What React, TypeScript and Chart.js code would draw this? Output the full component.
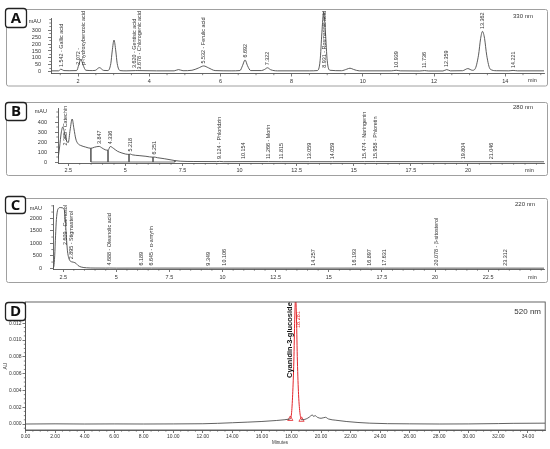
import React, { useEffect, useRef } from "react";
import { Chart, registerables } from "chart.js";
Chart.register(...registerables);

const FONT = '"Liberation Sans", Arial, Helvetica, sans-serif';
const INK = "#333333";
const AXIS = "#555555";
const TRACE = "#4a4a4a";
const RED = "#e3262b";

// ---------- Panel A : 330 nm ----------
const aTime = [1.25, 1.45, 1.52, 1.6, 1.75, 1.96, 2.02, 2.08, 2.14, 2.22, 2.4, 2.48, 2.6, 2.72, 2.84, 2.92, 2.96, 3.01, 3.06, 3.1, 3.18, 3.35, 3.62, 3.68, 4.2, 4.7, 4.82, 4.95, 5.2, 5.38, 5.532, 5.66, 5.85, 6.3, 6.55, 6.62, 6.692, 6.76, 6.85, 7.15, 7.24, 7.322, 7.41, 7.6, 8.5, 8.72, 8.8, 8.85, 8.9, 8.95, 9.0, 9.08, 9.4, 9.55, 9.64, 9.74, 9.9, 10.8, 10.939, 11.05, 11.6, 11.736, 11.85, 12.25, 12.359, 12.46, 12.8, 12.95, 13.08, 13.15, 13.25, 13.31, 13.362, 13.42, 13.48, 13.58, 13.75, 14.1, 14.221, 14.35, 15.09];
const aSignal = [8, 8, 20, 10, 9, 10, 50, 92, 50, 12, 10, 11, 31, 11, 10, 60, 150, 228, 150, 60, 10, 8, 10, 10, 8, 8, 17, 9, 12, 28, 43, 30, 10, 8, 10, 45, 86, 45, 10, 10, 18, 30, 16, 8, 8, 10, 80, 280, 430, 280, 80, 12, 9, 20, 27, 18, 8, 8, 12, 8, 7, 10, 7, 7, 17, 8, 9, 24, 12, 20, 120, 240, 290, 240, 120, 20, 9, 8, 11, 8, 8];
const aLabelTimes = [1.542, 2.072, 3.62, 3.678, 5.532, 6.692, 7.322, 8.931, 10.939, 11.736, 12.359, 13.362, 14.221];
const aLabelTexts = ["1.542 - Gallic acid", "2.072 -\np-hydroxybenzoic acid", "3.620 - Gentisic acid", "3.678 - Chlorogenic acid", "5.532 - Ferulic acid", "6.692", "7.322", "8.931 - Rosmarinic acid", "10.939", "11.736", "12.359", "13.362", "14.221"];
const aXTicks = [2, 4, 6, 8, 10, 12, 14];
const aYTicks = [0, 50, 100, 150, 200, 250, 300];

// ---------- Panel B : 280 nm ----------
const bTime = [2.05, 2.12, 2.19, 2.26, 2.34, 2.43, 2.5, 2.58, 2.67, 2.75, 2.83, 2.92, 3.05, 3.25, 3.49, 3.65, 3.85, 3.98, 4.12, 4.24, 4.34, 4.47, 4.65, 4.85, 5.0, 5.16, 5.22, 5.3, 5.6, 5.9, 6.21, 6.25, 6.4, 6.7, 7.0, 7.17, 7.4, 8.0, 9.0, 9.12, 9.3, 10.15, 11.27, 11.82, 13.06, 14.06, 15.47, 15.96, 19.8, 21.05, 23.33];
const bSignal = [30, 150, 290, 350, 290, 210, 195, 320, 430, 330, 230, 185, 165, 150, 137, 148, 156, 140, 122, 118, 155, 138, 108, 90, 80, 76, 79, 72, 64, 57, 48, 50, 43, 33, 21, 14, 8, 5, 4, 6, 3, 4, 4, 3, 3, 3, 4, 4, 3, 3, 2];
const bDropTimes = [3.49, 4.24, 5.16, 6.21, 7.17];
const bLabelTimes = [2.365, 3.847, 4.336, 5.218, 6.251, 9.124, 10.154, 11.266, 11.815, 13.059, 14.059, 15.474, 15.958, 19.804, 21.046];
const bLabelTexts = ["2.365 - Catechin", "3.847", "4.336", "5.218", "6.251", "9.124 - Phloridzin", "10.154", "11.266 - Morin", "11.815", "13.059", "14.059", "15.474 - Naringenin", "15.958 - Phloretin", "19.804", "21.046"];
const bXTicks = [2.5, 5, 7.5, 10, 12.5, 15, 17.5, 20];
const bYTicks = [0, 100, 200, 300, 400];

// ---------- Panel C : 220 nm ----------
const cTime = [2.02, 2.06, 2.1, 2.14, 2.18, 2.23, 2.28, 2.36, 2.45, 2.52, 2.57, 2.61, 2.65, 2.7, 2.76, 2.83, 2.895, 3.0, 3.1, 3.2, 3.35, 3.6, 4.0, 4.5, 4.69, 5.0, 6.19, 6.65, 9.35, 10.11, 14.26, 16.19, 16.9, 17.63, 20.08, 23.31, 25.13];
const cSignal = [10, 80, 500, 1300, 1950, 2300, 2400, 2430, 2420, 2390, 2250, 1800, 1250, 700, 420, 290, 260, 240, 200, 110, 50, 20, 10, 8, 10, 7, 8, 8, 7, 7, 6, 7, 6, 6, 7, 6, 5];
const cLabelTimes = [2.609, 2.895, 4.688, 6.189, 6.645, 9.349, 10.106, 14.257, 16.193, 16.897, 17.631, 20.078, 23.312];
const cLabelTexts = ["2.609 - Carnosol", "2.895 - Stigmasterol", "4.688 - Oleanolic acid", "6.189", "6.645 - α-amyrin", "9.349", "10.106", "14.257", "16.193", "16.897", "17.631", "20.078 - β-sitosterol", "23.312"];
const cXTicks = [2.5, 5, 7.5, 10, 12.5, 15, 17.5, 20, 22.5];
const cYTicks = [0, 500, 1000, 1500, 2000];

// ---------- Panel D : 520 nm ----------
const dTime = [0, 2, 4, 6, 8, 10, 12, 13, 14, 15, 16, 17, 17.5, 17.92, 18.0, 18.08, 18.16, 18.22, 18.28, 18.34, 18.4, 18.48, 18.58, 18.68, 18.9, 19.1, 19.3, 19.4, 19.5, 19.6, 19.75, 20.0, 20.3, 20.5, 21.0, 21.7, 22.5, 23.3, 24.5, 26, 28, 30, 32, 33, 35.17];
const dSignal = [0, 0.00002, 0, 0.00001, 0, 0.00001, 0.00003, 0.00008, 0.00015, 0.00022, 0.0003, 0.00042, 0.0005, 0.0006, 0.0012, 0.0035, 0.0075, 0.0125, 0.0152, 0.0125, 0.0075, 0.0035, 0.0012, 0.0005, 0.00055, 0.0007, 0.00095, 0.0011, 0.0009, 0.001, 0.0008, 0.00068, 0.0008, 0.0006, 0.00045, 0.0003, 0.00018, 0.0001, 0.00004, 0.00002, 0, 0.00001, 0.00005, 0.00008, 0.0001];
const dPeakStart = 17.92;
const dPeakEnd = 18.68;
const dPeakApex = 18.28;
const dPeakRTLabel = "18.281";
const dCompound = "Cyanidin-3-glucoside";
const dXTicks = [0, 2, 4, 6, 8, 10, 12, 14, 16, 18, 20, 22, 24, 26, 28, 30, 32, 34];
const dYTicks = [0, 0.002, 0.004, 0.006, 0.008, 0.01, 0.012];

function traceAt(ts: number[], vs: number[], t: number): number {
  if (t <= ts[0]) return vs[0];
  for (let i = 1; i < ts.length; i++) {
    if (t <= ts[i]) {
      const f = (t - ts[i - 1]) / (ts[i] - ts[i - 1]);
      return vs[i - 1] + f * (vs[i] - vs[i - 1]);
    }
  }
  return vs[vs.length - 1];
}

function pts(ts: number[], vs: number[]) {
  return ts.map((t, i) => ({ x: t, y: vs[i] as number | null }));
}

function drawBox(ctx: CanvasRenderingContext2D, b: number[], letter: string) {
  const [x, y, w, h] = b;
  ctx.save();
  ctx.beginPath();
  (ctx as any).roundRect(x + 0.5, y + 0.5, w, h, 3);
  ctx.fillStyle = "#ffffff";
  ctx.fill();
  ctx.lineWidth = 1.3;
  ctx.strokeStyle = "#222";
  ctx.stroke();
  ctx.font = `bold 15px "Open Sans", ${FONT}`;
  ctx.fillStyle = "#111";
  ctx.textAlign = "center";
  ctx.textBaseline = "middle";
  ctx.fillText(letter, x + w / 2 + 0.5, y + h / 2 + 1);
  ctx.restore();
}

function drawPeakLabels(chart: any, ts: number[], vs: number[], times: number[], texts: string[], topLimit: number) {
  const ctx: CanvasRenderingContext2D = chart.ctx;
  const xs = chart.scales.x;
  const ys = chart.scales.y;
  const sx = 0.9;
  const gap = 4.6;
  ctx.save();
  ctx.font = `6px ${FONT}`;
  ctx.fillStyle = INK;
  const items = times.map((t, i) => {
    const lines = texts[i].split("\n");
    const len = Math.max(...lines.map((l) => ctx.measureText(l).width)) * sx;
    return { t, lines, len, w: lines.length * gap, x: xs.getPixelForValue(t) };
  });
  for (let pass = 0; pass < 6; pass++) {
    for (let i = 1; i < items.length; i++) {
      const a = items[i - 1];
      const b = items[i];
      const need = (a.w + b.w) / 2 + 0.6;
      const d = b.x - a.x;
      if (d < need) {
        const s = (need - d) / 2;
        a.x -= s;
        b.x += s;
      }
    }
  }
  const zeroPx = ys.getPixelForValue(0);
  items.forEach((it) => {
    const peakPx = ys.getPixelForValue(traceAt(ts, vs, it.t));
    let start = Math.min(peakPx - 2.5, zeroPx - 2);
    if (start - it.len < topLimit) start = topLimit + it.len;
    ctx.save();
    ctx.translate(it.x, start);
    ctx.rotate(-Math.PI / 2);
    ctx.scale(sx, 1);
    ctx.textAlign = "left";
    ctx.textBaseline = "middle";
    const n = it.lines.length;
    it.lines.forEach((ln, k) => ctx.fillText(ln, 0, (k - (n - 1) / 2) * gap));
    ctx.restore();
  });
  ctx.restore();
}

interface Panel {
  letter: string;
  area: { l: number; t: number; r: number; b: number };
  box: number[];
  frame?: number[];
  x: number[];
  y: number[];
  xTicks: number[];
  yTicks: number[];
  xFmt: (v: number) => string;
  yFmt: (v: number) => string;
  xMinor: number;
  yMinor: number;
  tickFont: number;
  yTickPad: number;
  xTickPad: number;
  datasets: any[];
  extra: (chart: any) => void;
}

function buildChart(canvas: HTMLCanvasElement, p: Panel) {
  const W = 550;
  const H = 449;
  const plugin = {
    id: "panel" + p.letter,
    afterDraw(chart: any) {
      const ctx: CanvasRenderingContext2D = chart.ctx;
      const xs = chart.scales.x;
      const ys = chart.scales.y;
      const ca = chart.chartArea;
      ctx.save();
      if (p.frame) {
        const [fx, fy, fw, fh] = p.frame;
        ctx.beginPath();
        (ctx as any).roundRect(fx, fy, fw, fh, 2);
        ctx.strokeStyle = "#a0a0a0";
        ctx.lineWidth = 1;
        ctx.stroke();
      }
      ctx.strokeStyle = AXIS;
      ctx.lineWidth = 0.7;
      ctx.beginPath();
      for (let k = Math.ceil(p.x[0] / p.xMinor); k * p.xMinor <= p.x[1] + 1e-9; k++) {
        const v = k * p.xMinor;
        if (p.xTicks.some((t) => Math.abs(t - v) < 1e-7)) continue;
        const px = xs.getPixelForValue(v);
        ctx.moveTo(px, ca.bottom);
        ctx.lineTo(px, ca.bottom + 1.7);
      }
      for (let k = Math.ceil(p.y[0] / p.yMinor); k * p.yMinor <= p.y[1] + 1e-12; k++) {
        const v = k * p.yMinor;
        if (p.yTicks.some((t) => Math.abs(t - v) < p.yMinor * 1e-3)) continue;
        const py = ys.getPixelForValue(v);
        ctx.moveTo(ca.left, py);
        ctx.lineTo(ca.left - 1.7, py);
      }
      ctx.stroke();
      p.extra(chart);
      drawBox(ctx, p.box, p.letter);
      ctx.restore();
    },
  };
  return new Chart(canvas, {
    type: "line",
    data: { datasets: p.datasets },
    options: {
      responsive: false,
      animation: false,
      events: [],
      layout: { padding: { left: 0, top: p.area.t, right: W - p.area.r, bottom: 0 } },
      plugins: { legend: { display: false }, tooltip: { enabled: false }, title: { display: false } },
      elements: {
        point: { radius: 0 },
        line: { borderWidth: 0.9, cubicInterpolationMode: "monotone" },
      },
      scales: {
        x: {
          type: "linear",
          min: p.x[0],
          max: p.x[1],
          afterBuildTicks: (s: any) => {
            s.ticks = p.xTicks.map((v) => ({ value: v }));
          },
          afterFit: (s: any) => {
            s.height = H - p.area.b;
            s.paddingLeft = 0;
            s.paddingRight = 0;
          },
          ticks: {
            autoSkip: false,
            maxRotation: 0,
            minRotation: 0,
            padding: p.xTickPad,
            color: INK,
            font: { size: p.tickFont, family: FONT },
            callback: (v: any) => p.xFmt(Number(v)),
          },
          grid: { drawOnChartArea: false, drawTicks: true, tickLength: 3, color: AXIS, lineWidth: 0.8 },
          border: { display: true, color: AXIS, width: 0.9 },
        },
        y: {
          type: "linear",
          min: p.y[0],
          max: p.y[1],
          afterBuildTicks: (s: any) => {
            s.ticks = p.yTicks.map((v) => ({ value: v }));
          },
          afterFit: (s: any) => {
            s.width = p.area.l;
            s.paddingTop = 0;
            s.paddingBottom = 0;
          },
          ticks: {
            autoSkip: false,
            padding: p.yTickPad,
            color: INK,
            font: { size: p.tickFont, family: FONT },
            callback: (v: any) => p.yFmt(Number(v)),
          },
          grid: { drawOnChartArea: false, drawTicks: true, tickLength: 3, color: AXIS, lineWidth: 0.8 },
          border: { display: true, color: AXIS, width: 0.9 },
        },
      },
    } as any,
    plugins: [plugin],
  });
}

function chemText(ctx: CanvasRenderingContext2D, text: string, x: number, y: number, size: number, align: CanvasTextAlign) {
  ctx.save();
  ctx.font = `${size}px ${FONT}`;
  ctx.fillStyle = INK;
  ctx.textAlign = align;
  ctx.textBaseline = "middle";
  ctx.fillText(text, x, y);
  ctx.restore();
}

function unitText(chart: any, pad: number) {
  const ca = chart.chartArea;
  chemText(chart.ctx, "mAU", ca.left - 3 - pad, ca.top + 3, 5.5, "right");
}

export default function App() {
  const refA = useRef<HTMLCanvasElement>(null);
  const refB = useRef<HTMLCanvasElement>(null);
  const refC = useRef<HTMLCanvasElement>(null);
  const refD = useRef<HTMLCanvasElement>(null);

  useEffect(() => {
    const num = (v: number) => String(v);
    const charts: Chart[] = [];

    charts.push(
      buildChart(refA.current!, {
        letter: "A",
        area: { l: 51, t: 18, r: 544, b: 73.5 },
        box: [5, 8, 21, 19],
        frame: [6.5, 9.5, 541, 76.5],
        x: [1.24, 15.09],
        y: [-11, 386],
        xTicks: aXTicks,
        yTicks: aYTicks,
        xFmt: num,
        yFmt: num,
        xMinor: 0.5,
        yMinor: 25,
        tickFont: 5.5,
        yTickPad: 7,
        xTickPad: 1.5,
        datasets: [
          { data: pts(aTime, aSignal), borderColor: TRACE, clip: { left: 0, top: 7, right: 0, bottom: 0 } },
        ],
        extra: (chart) => {
          unitText(chart, 7);
          chemText(chart.ctx, "330 nm", 533, 16, 6, "right");
          chemText(chart.ctx, "min", 528, 80, 5.5, "left");
          drawPeakLabels(chart, aTime, aSignal, aLabelTimes, aLabelTexts, 11);
        },
      })
    );

    const bDrops: any[] = [];
    bDropTimes.forEach((t) => {
      bDrops.push({ x: t, y: traceAt(bTime, bSignal, t) }, { x: t, y: 0 }, { x: t, y: null });
    });
    charts.push(
      buildChart(refB.current!, {
        letter: "B",
        area: { l: 58, t: 108, r: 544, b: 163 },
        box: [5, 102, 21, 18],
        frame: [6.5, 102.5, 541, 73],
        x: [2.05, 23.33],
        y: [-10, 540],
        xTicks: bXTicks,
        yTicks: bYTicks,
        xFmt: num,
        yFmt: num,
        xMinor: 0.5,
        yMinor: 50,
        tickFont: 5.5,
        yTickPad: 8,
        xTickPad: 1.5,
        datasets: [
          { data: pts(bTime, bSignal), borderColor: TRACE },
          { data: bDrops, borderColor: "#555", borderWidth: 0.8, cubicInterpolationMode: "default", tension: 0, spanGaps: false },
          {
            data: [
              { x: bDropTimes[0], y: 0 },
              { x: bDropTimes[bDropTimes.length - 1], y: 0 },
            ],
            borderColor: "#555",
            borderWidth: 0.8,
            cubicInterpolationMode: "default",
            tension: 0,
          },
        ],
        extra: (chart) => {
          unitText(chart, 8);
          chemText(chart.ctx, "280 nm", 533, 107, 6, "right");
          chemText(chart.ctx, "min", 525, 170, 5.5, "left");
          drawPeakLabels(chart, bTime, bSignal, bLabelTimes, bLabelTexts, 106);
        },
      })
    );

    charts.push(
      buildChart(refC.current!, {
        letter: "C",
        area: { l: 53, t: 205, r: 544, b: 269 },
        box: [5, 196, 20, 17],
        frame: [6.5, 198.5, 541, 84],
        x: [2.02, 25.13],
        y: [-28, 2532],
        xTicks: cXTicks,
        yTicks: cYTicks,
        xFmt: num,
        yFmt: num,
        xMinor: 0.5,
        yMinor: 250,
        tickFont: 5.5,
        yTickPad: 8,
        xTickPad: 2,
        datasets: [{ data: pts(cTime, cSignal), borderColor: TRACE }],
        extra: (chart) => {
          unitText(chart, 8);
          chemText(chart.ctx, "220 nm", 535, 204, 6, "right");
          chemText(chart.ctx, "min", 528, 277, 5.5, "left");
          drawPeakLabels(chart, cTime, cSignal, cLabelTimes, cLabelTexts, 205);
        },
      })
    );

    const dAll = pts(dTime, dSignal);
    const dBlack = [
      ...dAll.filter((p) => p.x <= dPeakStart + 1e-9),
      { x: (dPeakStart + dPeakEnd) / 2, y: null },
      ...dAll.filter((p) => p.x >= dPeakEnd - 1e-9),
    ];
    const dPeak = dAll.filter((p) => p.x >= dPeakStart - 1e-9 && p.x <= dPeakEnd + 1e-9);
    const dMarks = [dPeakStart, dPeakEnd].map((t) => ({ x: t, y: traceAt(dTime, dSignal, t) }));
    charts.push(
      buildChart(refD.current!, {
        letter: "D",
        area: { l: 25.5, t: 302, r: 546, b: 430 },
        box: [5, 302, 20, 18],
        x: [0, 35.17],
        y: [-0.000715, 0.01454],
        xTicks: dXTicks,
        yTicks: dYTicks,
        xFmt: (v) => v.toFixed(2),
        yFmt: (v) => v.toFixed(3),
        xMinor: 0.5,
        yMinor: 0.0005,
        tickFont: 5,
        yTickPad: 1,
        xTickPad: 0.5,
        datasets: [
          { data: dBlack, borderColor: "#3a3a3a", borderWidth: 0.8, spanGaps: false },
          { data: dPeak, borderColor: RED, borderWidth: 1 },
          {
            data: dMarks,
            showLine: false,
            pointStyle: "triangle",
            pointRadius: 3,
            pointBorderColor: RED,
            pointBackgroundColor: "rgba(255,255,255,0)",
            pointBorderWidth: 0.8,
          },
        ],
        extra: (chart) => {
          const ctx: CanvasRenderingContext2D = chart.ctx;
          const ca = chart.chartArea;
          ctx.save();
          ctx.strokeStyle = AXIS;
          ctx.lineWidth = 0.9;
          ctx.strokeRect(ca.left, ca.top, ca.right - ca.left, ca.bottom - ca.top);
          ctx.restore();
          chemText(ctx, "520 nm", 541, 312, 8, "right");
          chemText(ctx, "Minutes", 280, 443, 4.5, "center");
          ctx.save();
          ctx.translate(6, 366);
          ctx.rotate(-Math.PI / 2);
          ctx.font = `5px ${FONT}`;
          ctx.fillStyle = INK;
          ctx.textAlign = "center";
          ctx.textBaseline = "middle";
          ctx.fillText("AU", 0, 0);
          ctx.restore();
          const ax = chart.scales.x.getPixelForValue(dPeakApex);
          ctx.save();
          ctx.translate(ax - 6, 378);
          ctx.rotate(-Math.PI / 2);
          ctx.font = `bold 7.5px ${FONT}`;
          ctx.fillStyle = "#111";
          ctx.textAlign = "left";
          ctx.textBaseline = "middle";
          ctx.fillText(dCompound, 0, 0);
          ctx.restore();
          ctx.save();
          ctx.translate(ax + 2.5, 328);
          ctx.rotate(-Math.PI / 2);
          ctx.font = `5.5px ${FONT}`;
          ctx.fillStyle = RED;
          ctx.textAlign = "left";
          ctx.textBaseline = "middle";
          ctx.fillText(dPeakRTLabel, 0, 0);
          ctx.restore();
        },
      })
    );

    return () => charts.forEach((c) => c.destroy());
  }, []);

  const cv: React.CSSProperties = { position: "absolute", left: 0, top: 0, width: 550, height: 449 };
  return (
    <div style={{ position: "fixed", left: 0, top: 0, width: 550, height: 449, background: "#fff", overflow: "hidden" }}>
      <canvas ref={refA} width={550} height={449} style={cv} />
      <canvas ref={refB} width={550} height={449} style={cv} />
      <canvas ref={refC} width={550} height={449} style={cv} />
      <canvas ref={refD} width={550} height={449} style={cv} />
    </div>
  );
}
